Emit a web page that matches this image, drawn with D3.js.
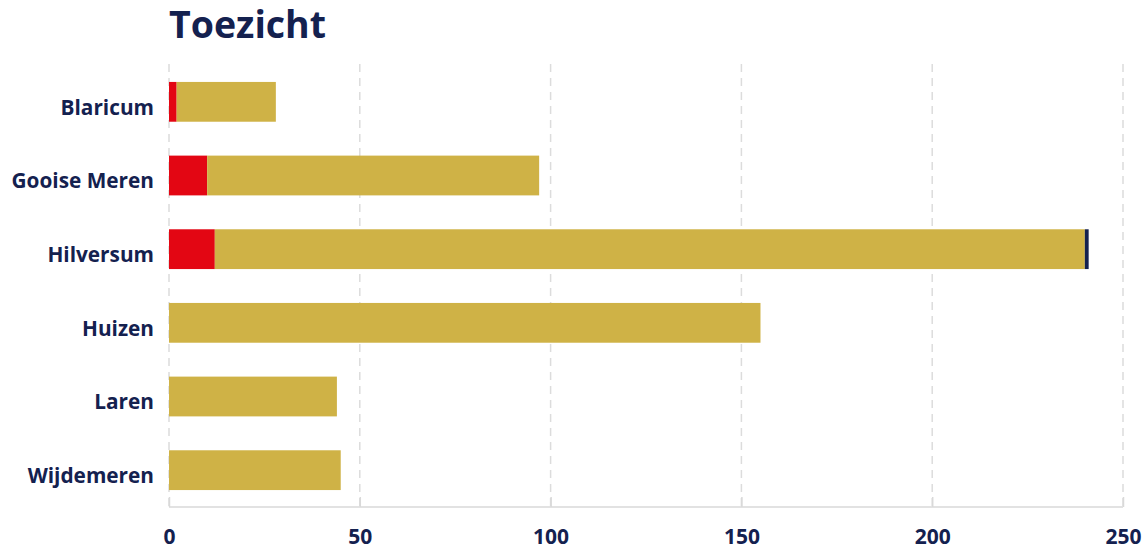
<!DOCTYPE html>
<html><head><meta charset="utf-8">
<script src="https://cdn.jsdelivr.net/npm/d3@7"></script>
<style>body{margin:0;background:#fff;} svg{display:block;font-family:"Open Sans",sans-serif;}</style>
</head><body>
<svg id="c" width="1144" height="549"></svg>
<script>
const categories = ["Blaricum","Gooise Meren","Hilversum","Huizen","Laren","Wijdemeren"];
const seriesNames = ["rood","geel","blauw"];
const rood  = [2, 10, 12, 0, 0, 0];
const geel  = [26, 87, 228, 155, 44, 45];
const blauw = [0, 0, 1, 0, 0, 0];
const xTicks = [0, 50, 100, 150, 200, 250];
const colors = ["#e30613", "#cfb246", "#14214f"];
const title = "Toezicht";

const svg = d3.select("#c");
const m = {left:169, right:21, top:65, bottom:42};
const W = 1144, H = 549;
const x = d3.scaleLinear().domain([0,250]).range([m.left, W - m.right]);
const y = d3.scaleBand().domain(categories).range([m.top, H - m.bottom]).paddingInner(0.46).paddingOuter(0.23);

// grid
svg.append("g").selectAll("line").data(xTicks).join("line")
  .attr("x1", d => x(d)).attr("x2", d => x(d))
  .attr("y1", m.top - 1).attr("y2", H - m.bottom)
  .attr("stroke", "#dcdcdc").attr("stroke-width", 1.5).attr("stroke-dasharray", "8,6");

// stacked bars
const rows = categories.map((c,i) => ({cat:c, rood:rood[i], geel:geel[i], blauw:blauw[i]}));
const stack = d3.stack().keys(seriesNames)(rows);
svg.append("g").selectAll("g").data(stack).join("g")
  .attr("fill", (d,i) => colors[i])
  .selectAll("rect").data(d => d).join("rect")
  .attr("x", d => x(d[0])).attr("width", d => x(d[1]) - x(d[0]))
  .attr("y", d => y(d.data.cat)).attr("height", y.bandwidth());

// x axis
const xa = svg.append("g").attr("transform", `translate(0,${H - m.bottom})`)
  .call(d3.axisBottom(x).tickValues(xTicks).tickSize(-10).tickPadding(22).tickFormat(d3.format("d")));
xa.select(".domain").attr("stroke", "#d9d9d9").attr("stroke-width", 1.5).attr("d", `M${x(0)},0H${x(250)}`);
xa.selectAll(".tick line").attr("stroke", "#d9d9d9").attr("stroke-width", 1.5);
xa.selectAll(".tick text").attr("fill", "#14214f").attr("font-size", 21).attr("font-weight", 700)
  .attr("font-family", "'Open Sans', sans-serif");

// y axis labels
const ya = svg.append("g").attr("transform", `translate(${m.left},0)`)
  .call(d3.axisLeft(y).tickSize(0).tickPadding(15));
ya.select(".domain").remove();
ya.selectAll(".tick text").attr("fill", "#14214f").attr("font-size", 20.8).attr("font-weight", 700)
  .attr("font-family", "'Open Sans', sans-serif").attr("dy", "0.62em");

// title
svg.append("text").attr("x", m.left).attr("y", 38).text(title)
  .attr("fill", "#14214f").attr("font-size", 37.5).attr("font-weight", 700);
</script>
</body></html>
